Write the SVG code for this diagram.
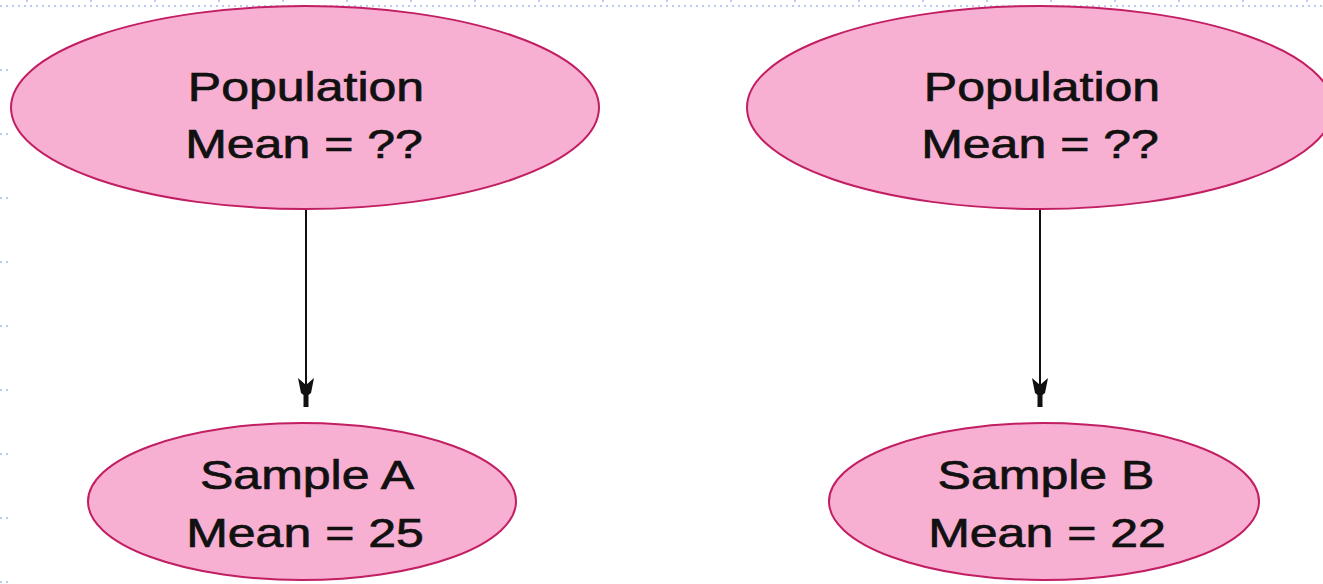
<svg xmlns="http://www.w3.org/2000/svg" width="1323" height="584" viewBox="0 0 1323 584">
  <defs>
    <style>
      .grid { stroke: #bccaf8; stroke-width: 2; stroke-dasharray: 2 4; fill: none; }
      .node { fill: #f7afd2; stroke: #c21e62; stroke-width: 2; }
      .label { font-family: "Liberation Sans", Arial, sans-serif; font-size: 41px; fill: #111; stroke: #111; stroke-width: 0.7; text-anchor: middle; }
      .edge { stroke: #111; stroke-width: 2; fill: none; }
      .head { fill: #111; stroke: none; }
    </style>
    <!-- barbed arrowhead, tip at origin pointing down -->
    <path id="arrowhead" class="head" d="M -8 -29 L 0 -22 L 8 -29 L 5 -14 L 2.5 -12 L 2.5 0 L -2.5 0 L -2.5 -12 L -5 -14 Z"/>
  </defs>

  <rect width="1323" height="584" fill="#ffffff"/>

  <!-- page grid marks -->
  <g id="grid">
    <line class="grid" x1="0" y1="6" x2="1323" y2="6"/>
    <path class="grid" stroke-dasharray="2 2" d="M27 0V6 M91 0V6 M155 0V6 M219 0V6 M283 0V6 M347 0V6 M411 0V6 M475 0V6 M539 0V6 M603 0V6 M667 0V6 M731 0V6 M795 0V6 M859 0V6 M923 0V6 M987 0V6 M1051 0V6 M1115 0V6 M1179 0V6 M1243 0V6 M1307 0V6"/>
    <path class="grid" d="M0 70H12 M0 134H12 M0 198H12 M0 262H12 M0 326H12 M0 390H12 M0 454H12 M0 518H12 M0 582H12"/>
  </g>

  <g id="connectors">
    <line class="edge" x1="306" y1="209" x2="306" y2="395"/>
    <use href="#arrowhead" x="306" y="407"/>
    <line class="edge" x1="1040" y1="209" x2="1040" y2="395"/>
    <use href="#arrowhead" x="1040" y="407"/>
  </g>

  <g id="population-left">
    <ellipse class="node" cx="305" cy="107.5" rx="294" ry="101.5"/>
    <text class="label" transform="translate(306 101) scale(1.22 1)">Population</text>
    <text class="label" transform="translate(304 158) scale(1.22 1)">Mean = ??</text>
  </g>

  <g id="population-right">
    <ellipse class="node" cx="1040" cy="107.5" rx="293" ry="101.5"/>
    <text class="label" transform="translate(1042 101) scale(1.22 1)">Population</text>
    <text class="label" transform="translate(1040 158) scale(1.22 1)">Mean = ??</text>
  </g>

  <g id="sample-a">
    <ellipse class="node" cx="302" cy="501.5" rx="214" ry="78.5"/>
    <text class="label" transform="translate(307 489) scale(1.22 1)">Sample A</text>
    <text class="label" transform="translate(305 547) scale(1.22 1)">Mean = 25</text>
  </g>

  <g id="sample-b">
    <ellipse class="node" cx="1044" cy="501.5" rx="215" ry="78.5"/>
    <text class="label" transform="translate(1046 489) scale(1.22 1)">Sample B</text>
    <text class="label" transform="translate(1047 547) scale(1.22 1)">Mean = 22</text>
  </g>
</svg>
